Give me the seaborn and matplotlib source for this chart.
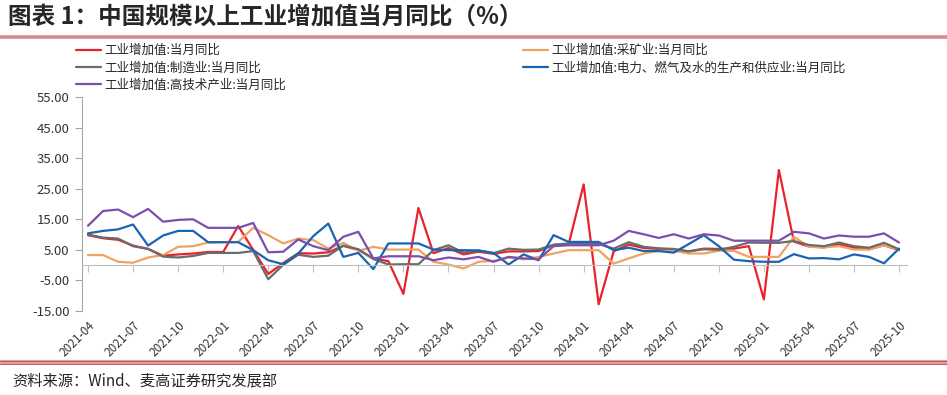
import matplotlib
matplotlib.use("Agg")
import matplotlib.pyplot as plt
import seaborn as sns
import pandas as pd
from matplotlib.lines import Line2D

# monthly categories 2021-04 .. 2025-10
months = pd.period_range("2021-04", "2025-10", freq="M").strftime("%Y-%m").tolist()

total = [9.8, 8.8, 8.3, 6.4, 5.3, 3.1, 3.5, 3.8, 4.3,
         4.3, 12.8, 5.0, -2.9, 0.7, 3.9, 3.8, 4.2, 6.3, 5.0, 2.2, 1.3,
         -9.4, 18.7, 3.9, 5.6, 3.5, 4.4, 3.7, 4.5, 4.5, 4.6, 6.6, 6.8,
         26.4, -12.8, 4.5, 6.7, 5.6, 5.3, 5.1, 4.5, 5.4, 5.3, 5.4, 6.2,
         -11.2, 31.1, 7.7, 6.1, 5.8, 6.8, 5.7, 5.2, 6.5, 4.9]
mining = [3.3, 3.3, 1.1, 0.8, 2.5, 3.3, 6.0, 6.2, 7.4,
          7.5, 7.6, 12.2, 9.8, 7.1, 8.7, 8.2, 5.4, 7.3, 4.7, 6.0, 5.1,
          5.1, 5.1, 1.1, 0.2, -1.1, 1.1, 1.4, 2.5, 1.9, 2.7, 3.8, 4.9,
          4.9, 4.9, 0.5, 2.2, 3.8, 4.7, 4.7, 3.8, 3.8, 4.7, 4.7, 2.7,
          2.7, 2.7, 9.3, 6.0, 5.8, 6.2, 5.1, 5.1, 6.5, 5.1]
manuf = [10.0, 9.0, 8.7, 6.2, 5.3, 2.8, 2.5, 3.0, 4.0,
         4.0, 4.0, 4.6, -4.6, 0.1, 3.4, 2.7, 3.1, 6.4, 5.2, 2.0, 0.2,
         0.3, 0.3, 4.9, 6.5, 4.1, 4.8, 3.9, 5.4, 5.0, 5.1, 6.7, 7.1,
         6.9, 6.9, 5.4, 7.5, 6.0, 5.5, 5.3, 4.5, 5.2, 5.0, 6.0, 7.4,
         7.3, 7.3, 7.9, 6.6, 6.2, 7.4, 6.2, 5.7, 7.3, 5.2]
power = [10.4, 11.2, 11.7, 13.3, 6.4, 9.7, 11.2, 11.2, 7.5,
         7.5, 7.5, 4.9, 1.6, 0.3, 3.8, 9.5, 13.6, 2.7, 4.0, -1.3, 7.1,
         7.1, 7.1, 5.1, 4.9, 4.9, 4.8, 4.0, 0.2, 3.5, 1.6, 9.8, 7.6,
         7.6, 7.6, 4.9, 5.7, 4.6, 4.6, 4.1, 6.9, 9.8, 6.2, 1.8, 1.3,
         1.1, 1.1, 3.6, 2.2, 2.3, 1.9, 3.5, 2.7, 0.6, 5.4]
hitech = [12.9, 17.7, 18.2, 15.7, 18.4, 14.2, 14.8, 15.0, 12.2,
          12.2, 12.2, 13.8, 4.2, 4.4, 8.4, 6.2, 4.9, 9.3, 10.9, 2.2, 2.9,
          2.9, 2.9, 1.6, 2.5, 1.9, 2.7, 1.1, 2.7, 2.2, 1.9, 6.2, 6.5,
          6.5, 6.5, 8.0, 11.2, 10.1, 8.9, 10.1, 8.7, 10.1, 9.7, 8.0, 8.0,
          8.0, 8.0, 10.9, 10.4, 8.7, 9.7, 9.3, 9.3, 10.4, 7.4]

names = ["工业增加值:当月同比", "工业增加值:采矿业:当月同比", "工业增加值:制造业:当月同比",
         "工业增加值:电力、燃气及水的生产和供应业:当月同比", "工业增加值:高技术产业:当月同比"]
series = [total, mining, manuf, power, hitech]
colors = ["#e8232a", "#f0a360", "#6b6b6b", "#1a63b4", "#7a4fae"]

sns.set_style("white")
plt.rcParams["font.family"] = ["Noto Sans CJK SC", "DejaVu Sans"]

fig = plt.figure(figsize=(9.47, 3.95), dpi=100)
ax = fig.add_axes([82 / 947, 1 - 311 / 395, (907 - 82) / 947, (311 - 97) / 395])

x = list(range(len(months)))
handles = []
for name, vals, c in zip(names, series, colors):
    sns.lineplot(x=x, y=vals, ax=ax, color=c, linewidth=1.6, label=name)
    handles.append(Line2D([0], [0], color=c, linewidth=1.6))

# axis line sits on zero; move it before styling ticks (set_position resets ticks)
for s in ["top", "right"]:
    ax.spines[s].set_visible(False)
ax.spines["bottom"].set_position(("data", 0))
ax.spines["bottom"].set_color("#bfbfbf")
ax.spines["left"].set_color("#a6a6a6")

ax.set_xlim(-0.4, len(months) - 1 + 0.53)
ax.set_ylim(-15, 55)
ax.set_yticks(range(-15, 56, 10))
ax.set_yticklabels([f"{v:.2f}" for v in range(-15, 56, 10)])
ax.set_xticks(x[::3])
ax.set_xticklabels(months[::3], rotation=45, ha="right", va="top", rotation_mode="anchor")

ax.tick_params(axis="y", direction="out", length=5, color="#a6a6a6", labelsize=9.5, labelcolor="#333333",
               left=True, pad=4)
ax.tick_params(axis="x", direction="out", length=5, color="#bfbfbf", labelsize=8.5, labelcolor="#333333",
               bottom=True, pad=34)
ax.set_xlabel("")
ax.set_ylabel("")

order = [0, 2, 4, 1, 3]
leg = ax.legend([handles[i] for i in order], [names[i] for i in order], ncol=2,
                loc="upper left", bbox_to_anchor=(76 / 947, 1 - 44 / 395), bbox_transform=fig.transFigure,
                frameon=False, fontsize=9, handlelength=2.0, handletextpad=0.3,
                labelspacing=0.35, columnspacing=18.9, borderaxespad=0, borderpad=0)

fig.text(8 / 947, 1 - 17 / 395, "图表 1：中国规模以上工业增加值当月同比（%）", fontsize=17,
         fontweight="bold", va="center", ha="left")
fig.add_artist(Line2D([0, 1], [1 - 37 / 395] * 2, color="#d48c8c", linewidth=2.6, transform=fig.transFigure))
fig.add_artist(Line2D([0, 1], [1 - 362 / 395] * 2, color="#dca0a0", linewidth=3.0, transform=fig.transFigure))
fig.add_artist(Line2D([0, 1], [1 - 360.5 / 395] * 2, color="#c05a5a", linewidth=0.7, transform=fig.transFigure))
fig.add_artist(Line2D([0, 1], [1 - 363.5 / 395] * 2, color="#c05a5a", linewidth=0.7, transform=fig.transFigure))
fig.text(12 / 947, 1 - 381 / 395, "资料来源：Wind、麦高证券研究发展部", fontsize=11, va="center", ha="left")

fig.savefig("out.png", dpi=100)
plt.close(fig)
